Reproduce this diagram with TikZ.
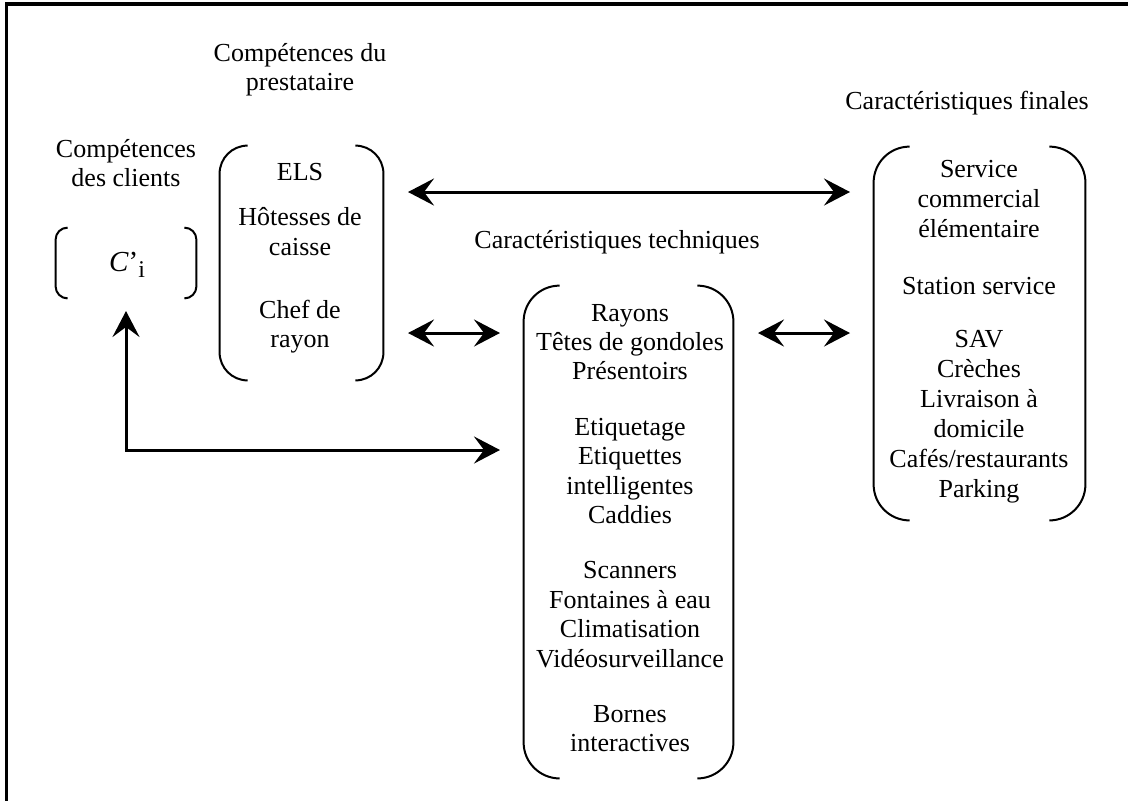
\documentclass[tikz,border=0pt]{standalone}
\usepackage{fontspec}
\setmainfont{Liberation Serif}
\usetikzlibrary{arrows.meta,calc}
\tikzset{
  txt/.style={align=center, inner sep=0pt, font=\fontsize{13}{14.7}\selectfont},
  brk/.style={draw=none, inner sep=0pt},
  brkline/.style={line width=1pt},
  arr/.style={line width=1.5pt, {Stealth[length=13pt,width=13.5pt,inset=5pt]}-{Stealth[length=13pt,width=13.5pt,inset=5pt]}},
  frame/.style={line width=1.75pt}
}
\newcommand{\bracketpair}[3]{% name, radius(pt), stub (px units)
  \draw[brkline, rounded corners=#2] ($(#1.north west)+(#3,0)$) -- (#1.north west) -- (#1.south west) -- ($(#1.south west)+(#3,0)$);
  \draw[brkline, rounded corners=#2] ($(#1.north east)-(#3,0)$) -- (#1.north east) -- (#1.south east) -- ($(#1.south east)-(#3,0)$);
}
\begin{document}
\begin{tikzpicture}[x=0.5pt, y=-0.5pt]
\useasboundingbox (0,0) rectangle (1128,800);
% frame (only top and left edges visible)
\draw[frame] (6.5,1200) -- (6.5,4) -- (1300,4);

% headings
\node[txt] (hclients) at (126,163) {Compétences\\des clients};
\node[txt] (hpresta) at (300,69.5) {Compétences du\\prestataire};
\node[txt] (htech) at (617,242) {Caractéristiques techniques};
\node[txt] (hfin) at (967,103) {Caractéristiques finales};

% bracket frames
\node[brk, minimum width=70pt, minimum height=35pt] (ci) at (126,263) {};
\node[brk, minimum width=81.5pt, minimum height=117pt] (els) at (301.5,263) {};
\node[brk, minimum width=104.5pt, minimum height=246pt] (tech) at (628.5,532) {};
\node[brk, minimum width=105.5pt, minimum height=186.5pt] (fin) at (979.5,333.5) {};
\bracketpair{ci}{6pt}{12}
\bracketpair{els}{14pt}{28}
\bracketpair{tech}{18pt}{36}
\bracketpair{fin}{18pt}{36}

% contents
\node[txt, font=\fontsize{14.5}{15}\selectfont] (cival) at (127,265) {\textit{C}’\raisebox{-3pt}{\fontsize{12}{12}\selectfont i}};
\node[txt] (tels) at (300,258) {ELS\\[8.2pt]Hôtesses de\\caisse\\[16.7pt]Chef de\\rayon};
\node[txt] (ttech) at (630,528) {Rayons\\Têtes de gondoles\\Présentoirs\\[13pt]Etiquetage\\Etiquettes\\intelligentes\\Caddies\\[13pt]Scanners\\Fontaines à eau\\Climatisation\\Vidéosurveillance\\[13pt]Bornes\\interactives};
\node[txt, font=\fontsize{13}{15}\selectfont] (tfin) at (979,332) {Service\\commercial\\élémentaire\\[13.5pt]Station service\\[11.5pt]SAV\\Crèches\\Livraison à\\domicile\\Cafés/restaurants\\Parking};

% arrow end points
\coordinate (a1) at (408,192);
\coordinate (a2) at (850,192);
\coordinate (b1) at (408,333);
\coordinate (b2) at (500,333);
\coordinate (c1) at (758,333);
\coordinate (c2) at (850,333);
\coordinate (d1) at (126,311);
\coordinate (d2) at (500,450);

\draw[arr] (a1) -- (a2);
\draw[arr] (b1) -- (b2);
\draw[arr] (c1) -- (c2);
\draw[arr] (d1) |- (d2);
\end{tikzpicture}
\end{document}
